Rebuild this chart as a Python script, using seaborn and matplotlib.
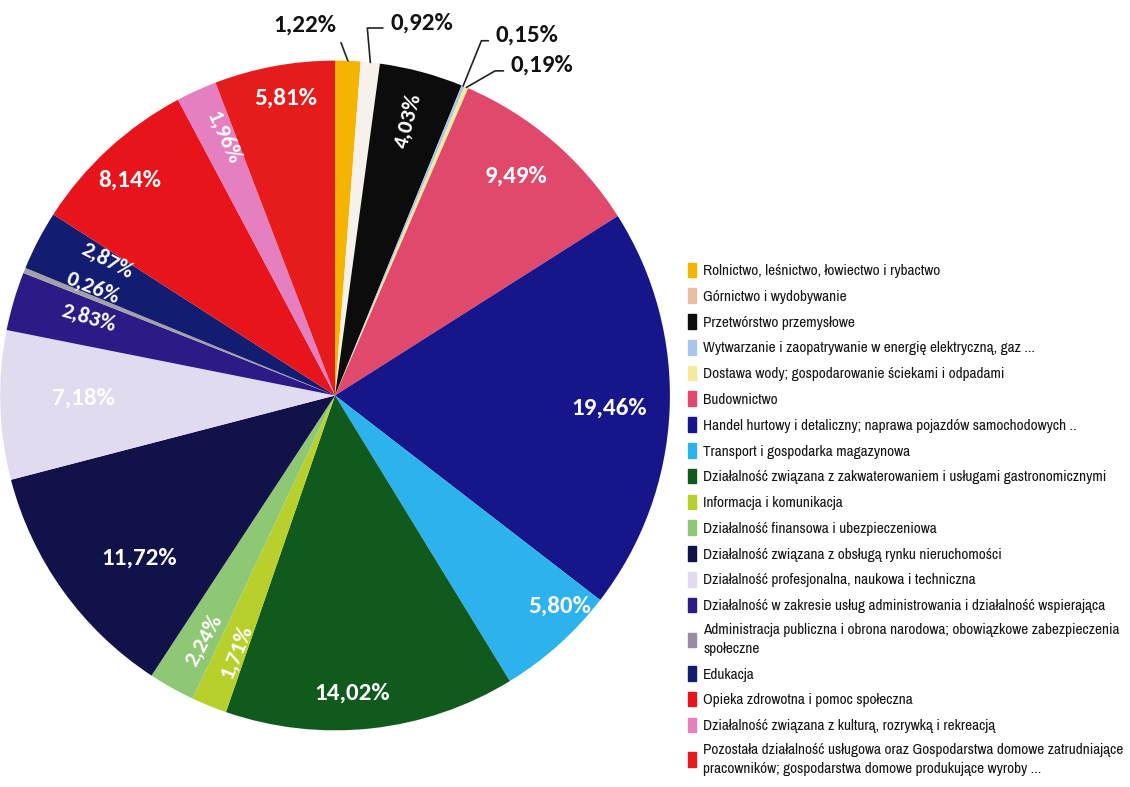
import numpy as np
import matplotlib.pyplot as plt
import seaborn as sns
from matplotlib import font_manager

# ---------------------------------------------------------
# DATA
# ---------------------------------------------------------

sectors = [
    "Rolnictwo, leśnictwo, łowiectwo i rybactwo",
    "Górnictwo i wydobywanie",
    "Przetwórstwo przemysłowe",
    "Wytwarzanie i zaopatrywanie w energię elektryczną, gaz ...",
    "Dostawa wody; gospodarowanie ściekami i odpadami",
    "Budownictwo",
    "Handel hurtowy i detaliczny; naprawa pojazdów samochodowych ..",
    "Transport i gospodarka magazynowa",
    "Działalność związana z zakwaterowaniem i usługami gastronomicznymi",
    "Informacja i komunikacja",
    "Działalność finansowa i ubezpieczeniowa",
    "Działalność związana z obsługą rynku nieruchomości",
    "Działalność profesjonalna, naukowa i techniczna",
    "Działalność w zakresie usług administrowania i działalność wspierająca",
    "Administracja publiczna i obrona narodowa; obowiązkowe zabezpieczenia\nspołeczne",
    "Edukacja",
    "Opieka zdrowotna i pomoc społeczna",
    "Działalność związana z kulturą, rozrywką i rekreacją",
    "Pozostała działalność usługowa oraz Gospodarstwa domowe zatrudniające\npracowników; gospodarstwa domowe produkujące wyroby ...",
]

shares = [1.22, 0.92, 4.03, 0.15, 0.19, 9.49, 19.46, 5.80, 14.02, 1.71,
          2.24, 11.72, 7.18, 2.83, 0.26, 2.87, 8.14, 1.96, 5.81]

colors = ["#f5b400", "#f7f1ec", "#0c0c0c", "#a9c6ea", "#f3ea9c", "#e0486c",
          "#16168a", "#2cb2ec", "#0f5a1c", "#b9d02c", "#8fc874", "#12124a",
          "#e2daee", "#2c1a86", "#a2a0a8", "#121c70", "#e8141c", "#e67fc0",
          "#e61b1b"]

legend_colors = list(colors)
legend_colors[1] = "#e9bfa2"
legend_colors[14] = "#9a8aa8"

# label placement: radial fraction, angle nudge (deg), rotate along radius
label_r = [None, None, 0.85, None, None, 0.85, 0.82, 0.92, 0.89, 0.82,
           0.83, 0.76, 0.75, 0.77, 0.79, 0.79, 0.89, 0.84, 0.90]
label_dang = [0, 0, 0, 0, 0, 1, 0, 5, -3, 1,
              1, 4, -1, -1, -2, -3, 1, -1, -1]
label_rot = [False, False, True, False, False, False, False, False, False, True,
             True, False, False, True, True, True, False, True, False]

# outside labels: text pos, alignment, connection style, anchor on text
outside = {
    0: ((0.005, 1.075), "right", "arc3", (1.0, 0.2)),
    1: ((0.165, 1.113), "left", "angle,angleA=180,angleB=95,rad=0", (0.0, 0.25)),
    3: ((0.48, 1.075), "left", "angle,angleA=180,angleB=68,rad=0", (0.0, 0.25)),
    4: ((0.525, 0.985), "left", "angle,angleA=180,angleB=30,rad=0", (0.0, 0.25)),
}

def fmt(v):
    return f"{v:.2f}%".replace(".", ",")

# ---------------------------------------------------------
# PLOT
# ---------------------------------------------------------

sns.set_theme(style="white")

names = {f.name for f in font_manager.fontManager.ttflist}
label_font = "Carlito" if "Carlito" in names else "Lato"
legend_font = "Archivo Narrow" if "Archivo Narrow" in names else "Liberation Sans"
plt.rcParams["font.family"] = [label_font, "DejaVu Sans"]

fig = plt.figure(figsize=(11.3, 7.87), dpi=100)
ax = fig.add_axes([0.0, 0.072, 0.593, 0.851])

wedges, _ = ax.pie(shares, colors=sns.color_palette(colors), startangle=90,
                   counterclock=False, wedgeprops=dict(linewidth=0))
ax.set_xlim(-1, 1)
ax.set_ylim(-1, 1)
ax.set_aspect("equal")

for i, w in enumerate(wedges):
    ang = (w.theta1 + w.theta2) / 2
    rad = np.deg2rad(ang)
    if label_r[i] is not None:
        r = label_r[i]
        a = np.deg2rad(ang + label_dang[i])
        rot = 0
        if label_rot[i]:
            rot = ((ang + 90) % 180) - 90
        ax.text(r * np.cos(a), r * np.sin(a), fmt(shares[i]),
                color="white", fontsize=16 if label_rot[i] else 18,
                fontweight="bold", ha="center", va="center",
                rotation=rot, rotation_mode="anchor")
    elif i in outside:
        pos, ha, cs, rel = outside[i]
        ax.annotate(fmt(shares[i]), xy=(np.cos(rad), np.sin(rad)), xytext=pos,
                    ha=ha, va="center" if ha == "left" else "bottom",
                    fontsize=18, fontweight="bold", color="#111111",
                    annotation_clip=False,
                    arrowprops=dict(arrowstyle="-", color="#222222", lw=1.2,
                                    connectionstyle=cs, relpos=rel,
                                    shrinkA=3, shrinkB=0))

handles = [plt.Rectangle((0, 0), 1, 1, color=c) for c in legend_colors]
leg = fig.legend(handles, sectors, loc="upper left",
                 bbox_to_anchor=(0.6035, 0.674), frameon=False,
                 prop=dict(family=legend_font, size=11),
                 handlelength=0.5, handleheight=1.1, handletextpad=0.5,
                 labelspacing=0.67, borderaxespad=0)
for t in leg.get_texts():
    t.set_color("#151515")
    t.set_linespacing(1.4)

fig.savefig("out.png", dpi=100, facecolor="white")
